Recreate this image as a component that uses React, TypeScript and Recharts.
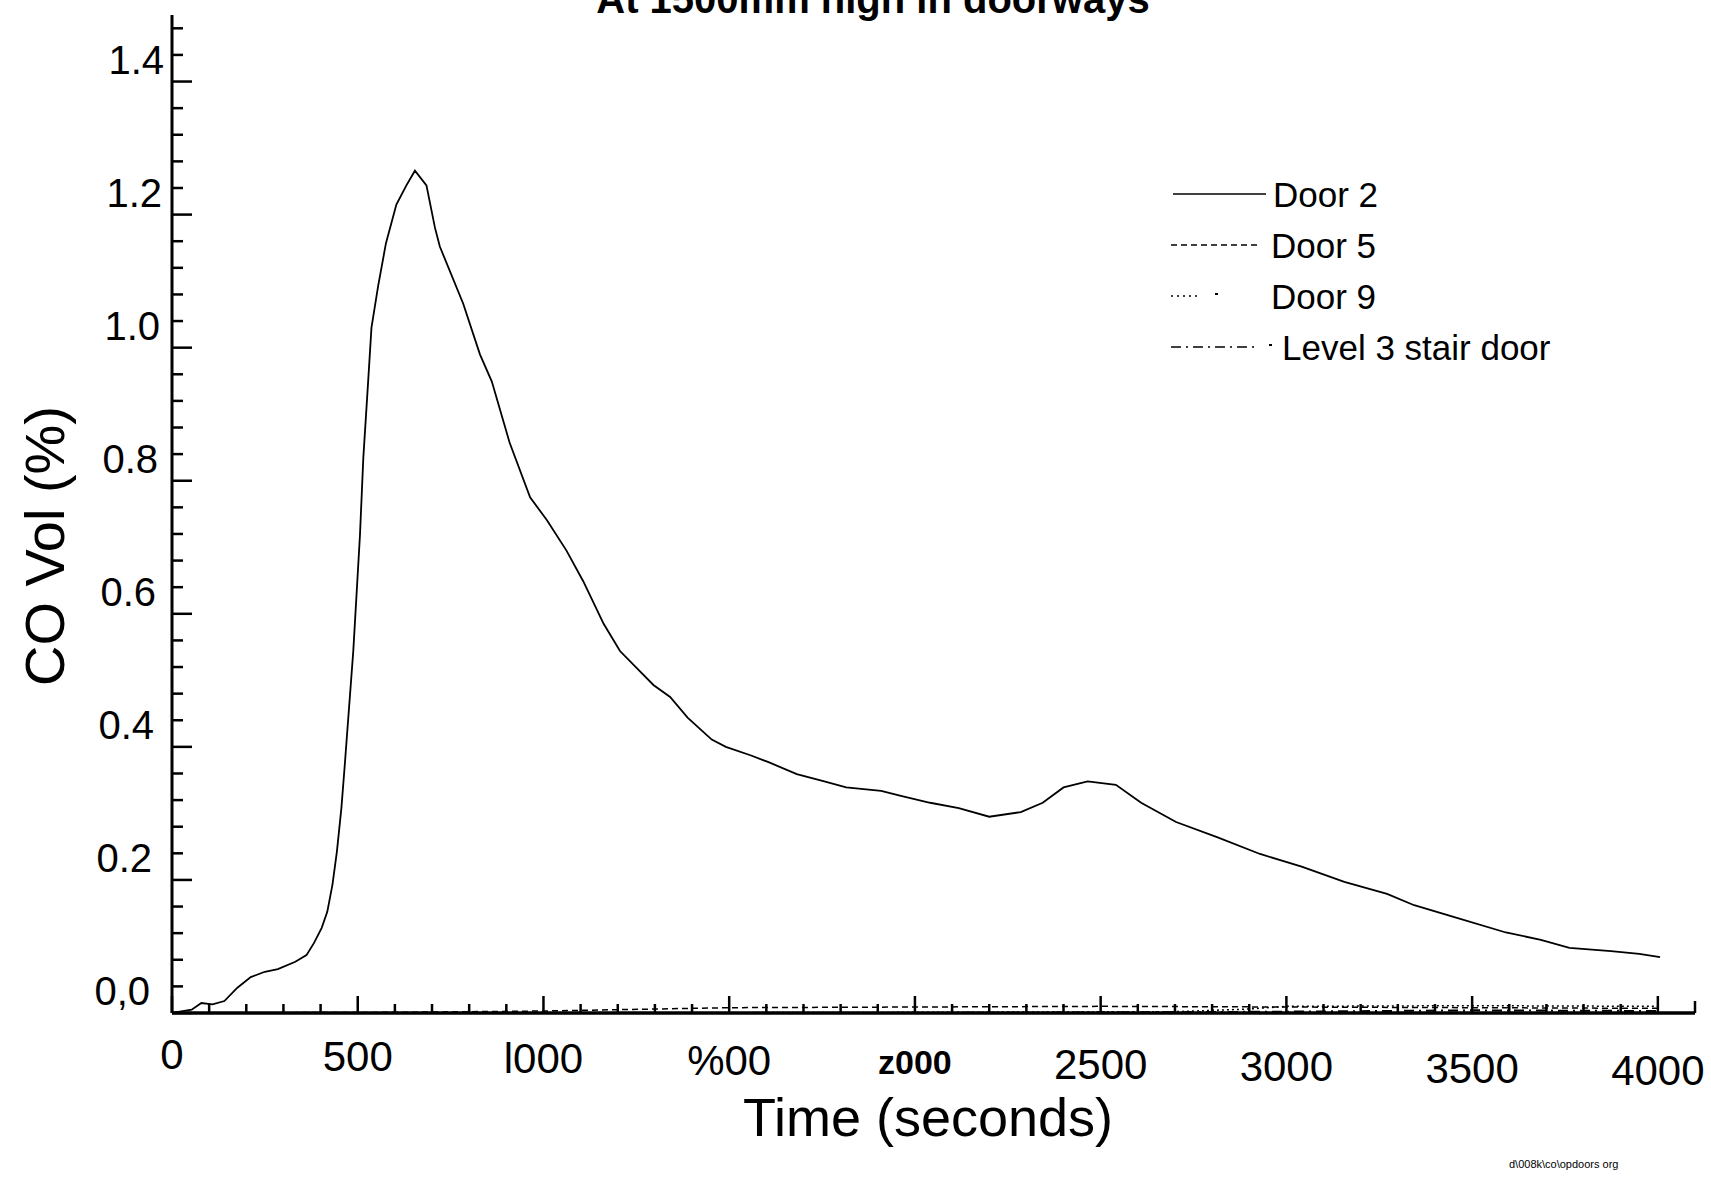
import React from 'react';
import { LineChart, Line, XAxis, YAxis, Legend } from 'recharts';

// Door 2 trace (time in s, CO % vol)
const door2Times = [
  0, 53, 79, 109, 141, 176, 212, 250, 285, 332, 362, 382, 403, 418, 432, 444, 456, 465, 488, 506,
  515, 528, 537, 555, 576, 604, 631, 654, 685, 708, 721, 784, 829, 861, 909, 964, 1009, 1062, 1107, 1162,
  1206, 1296, 1341, 1388, 1453, 1491, 1559, 1606, 1682, 1756, 1815, 1909, 1965, 2041, 2118, 2200, 2285, 2344, 2400, 2465,
  2541, 2609, 2703, 2815, 2929, 3041, 3156, 3271, 3344, 3459, 3591, 3685, 3762, 3874, 3950, 4006,
];
const door2Values = [
  0, 0.005, 0.015, 0.013, 0.018, 0.038, 0.054, 0.062, 0.066, 0.077, 0.087, 0.105, 0.128, 0.152, 0.193, 0.243, 0.308, 0.372, 0.544, 0.718,
  0.834, 0.949, 1.03, 1.093, 1.157, 1.215, 1.244, 1.266, 1.244, 1.18, 1.152, 1.066, 0.99, 0.949, 0.857, 0.775, 0.741, 0.695, 0.649, 0.585,
  0.544, 0.493, 0.475, 0.444, 0.411, 0.4, 0.387, 0.377, 0.359, 0.348, 0.339, 0.334, 0.326, 0.316, 0.308, 0.295, 0.302, 0.316, 0.339, 0.348,
  0.343, 0.316, 0.287, 0.264, 0.239, 0.22, 0.197, 0.179, 0.162, 0.143, 0.121, 0.11, 0.098, 0.093, 0.089, 0.084,
];

const door5Times = [0, 600, 1000, 1300, 1500, 2000, 2500, 3000, 3500, 4000];
const door5Values = [0, 0.001, 0.003, 0.006, 0.008, 0.009, 0.01, 0.009, 0.008, 0.007];

const door9Times = [0, 1000, 2000, 2700, 2900, 3000, 3500, 4000];
const door9Values = [0, 0, 0.001, 0.002, 0.006, 0.01, 0.011, 0.01];

const level3Times = [0, 1000, 2000, 2600, 3000, 3500, 4000];
const level3Values = [0, 0, 0, 0.001, 0.002, 0.004, 0.003];

const seriesNames = ['Door 2', 'Door 5', 'Door 9', 'Level 3 stair door'];

const xTickValues = [0, 500, 1000, 1500, 2000, 2500, 3000, 3500, 4000];
const xTickLabels = ['0', '500', 'l000', '%00', 'z000', '2500', '3000', '3500', '4000'];

const yTickValues = [0, 0.2, 0.4, 0.6, 0.8, 1.0, 1.2, 1.4];
const yTickLabels = ['0,0', '0.2', '0.4', '0.6', '0.8', '1.0', '1.2', '1.4'];

const zip = (times: number[], values: number[]) => times.map((t, i) => ({ t, co: values[i] }));

const door2 = zip(door2Times, door2Values);
const door5 = zip(door5Times, door5Values);
const door9 = zip(door9Times, door9Values);
const level3 = zip(level3Times, level3Values);

const FONT = '"Liberation Sans", Arial, sans-serif';
const W = 1711;
const H = 1178;
const LEFT = 172;
const PLOT_W = 1523;
const Y_AXIS_W = 60;
const X_AXIS_H = 60;

// minor ticks every 100 s and every 0.04 %
const xTicks = [...Array.from({ length: 41 }, (_, i) => i * 100), 4100];
const yTicks = Array.from({ length: 38 }, (_, i) => Math.round(i * 4) / 100);

const XTick = (props: any) => {
  const { x, y, payload } = props;
  const v = payload.value;
  const idx = xTickValues.indexOf(v);
  const skew = (17 * (x - LEFT)) / 1486;
  const len = v > 4000 ? 12 : idx >= 0 ? 17 : 9;
  return (
    <g>
      <line x1={x} x2={x} y1={y} y2={y - len} stroke="#000" strokeWidth={2.5} />
      {idx >= 0 && (
        <text
          x={x}
          y={y + 41 + skew}
          textAnchor="middle"
          dominantBaseline="central"
          fontFamily={FONT}
          fontSize={idx === 4 ? 34 : 42}
          fontWeight={idx === 4 ? 'bold' : 'normal'}
          fill="#000"
        >
          {xTickLabels[idx]}
        </text>
      )}
    </g>
  );
};

const YTick = (props: any) => {
  const { x, y, payload } = props;
  const v = payload.value;
  const idx = yTickValues.findIndex((m) => Math.abs(m - v) < 1e-6);
  return (
    <g>
      <line x1={x} x2={x + (idx >= 0 ? 20 : 11)} y1={y} y2={y} stroke="#000" strokeWidth={2.5} />
      {idx >= 0 && (
        <text
          x={x - 22 + (14 * v) / 1.4}
          y={y - 22}
          textAnchor="end"
          dominantBaseline="central"
          fontFamily={FONT}
          fontSize={40}
          fill="#000"
        >
          {yTickLabels[idx]}
        </text>
      )}
    </g>
  );
};

const legendRows = [
  { y: 24, x1: 13, x2: 106, dash: undefined as string | undefined, tx: 113, extra: null as number | null },
  { y: 75, x1: 11, x2: 100, dash: '6 4', tx: 111, extra: null },
  { y: 126, x1: 11, x2: 40, dash: '2 4', tx: 111, extra: 55 },
  { y: 177, x1: 11, x2: 97, dash: '10 5 2 5', tx: 122, extra: 109 },
];

const renderLegend = () => (
  <svg width={440} height={200} style={{ overflow: 'visible' }}>
    {legendRows.map((r, i) => (
      <g key={seriesNames[i]}>
        <line x1={r.x1} x2={r.x2} y1={r.y} y2={r.y} stroke="#000" strokeWidth={1.6} strokeDasharray={r.dash} />
        {r.extra !== null && <line x1={r.extra} x2={r.extra + 3} y1={r.y - 2} y2={r.y - 2} stroke="#000" strokeWidth={2} />}
        <text x={r.tx} y={r.y} dominantBaseline="central" fontFamily={FONT} fontSize={35} fill="#000">
          {seriesNames[i]}
        </text>
      </g>
    ))}
  </svg>
);

export default function App() {
  return (
    <div style={{ position: 'relative', width: W, height: H, background: '#fff' }}>
      <style>{'body{margin:0;background:#fff}'}</style>
      <LineChart
        width={W}
        height={H}
        margin={{ top: 15, right: W - LEFT - PLOT_W, bottom: 165 - X_AXIS_H, left: LEFT - Y_AXIS_W }}
      >
        <XAxis
          type="number"
          dataKey="t"
          domain={[0, 4100]}
          ticks={xTicks}
          interval={0}
          height={X_AXIS_H}
          tickSize={0}
          tickMargin={0}
          tickLine={false}
          tick={<XTick />}
          axisLine={{ stroke: '#000', strokeWidth: 3.5 }}
          allowDataOverflow
        />
        <YAxis
          type="number"
          domain={[0, 1.5]}
          ticks={yTicks}
          interval={0}
          width={Y_AXIS_W}
          tickSize={0}
          tickMargin={0}
          tickLine={false}
          tick={<YTick />}
          axisLine={{ stroke: '#000', strokeWidth: 3 }}
          allowDataOverflow
        />
        <Legend
          layout="horizontal"
          verticalAlign="middle"
          align="center"
          content={renderLegend}
          wrapperStyle={{ left: 1160, top: 170, width: 440, height: 200 }}
        />
        <Line data={door5} dataKey="co" name={seriesNames[1]} type="linear" stroke="#000" strokeWidth={1.5} strokeDasharray="6 4" dot={false} isAnimationActive={false} />
        <Line data={door9} dataKey="co" name={seriesNames[2]} type="linear" stroke="#000" strokeWidth={1.5} strokeDasharray="2 3" dot={false} isAnimationActive={false} />
        <Line data={level3} dataKey="co" name={seriesNames[3]} type="linear" stroke="#000" strokeWidth={2} strokeDasharray="10 5 2 5" dot={false} isAnimationActive={false} />
        <Line data={door2} dataKey="co" name={seriesNames[0]} type="linear" stroke="#000" strokeWidth={1.8} dot={false} isAnimationActive={false} />
      </LineChart>
      <svg width={W} height={H} style={{ position: 'absolute', left: 0, top: 0, pointerEvents: 'none' }}>
        <text x={873} y={13} textAnchor="middle" fontFamily={FONT} fontWeight="bold" fontSize={40} fill="#000">
          At 1500mm high in doorways
        </text>
        <text
          x={44}
          y={546}
          transform="rotate(-90 44 546)"
          textAnchor="middle"
          dominantBaseline="central"
          fontFamily={FONT}
          fontSize={56}
          fill="#000"
        >
          CO Vol (%)
        </text>
        <text x={928} y={1117} textAnchor="middle" dominantBaseline="central" fontFamily={FONT} fontSize={54} fill="#000">
          Time (seconds)
        </text>
        <text x={1509} y={1168} fontFamily={FONT} fontSize={11} fill="#000">
          d\008k\co\opdoors org
        </text>
      </svg>
    </div>
  );
}
